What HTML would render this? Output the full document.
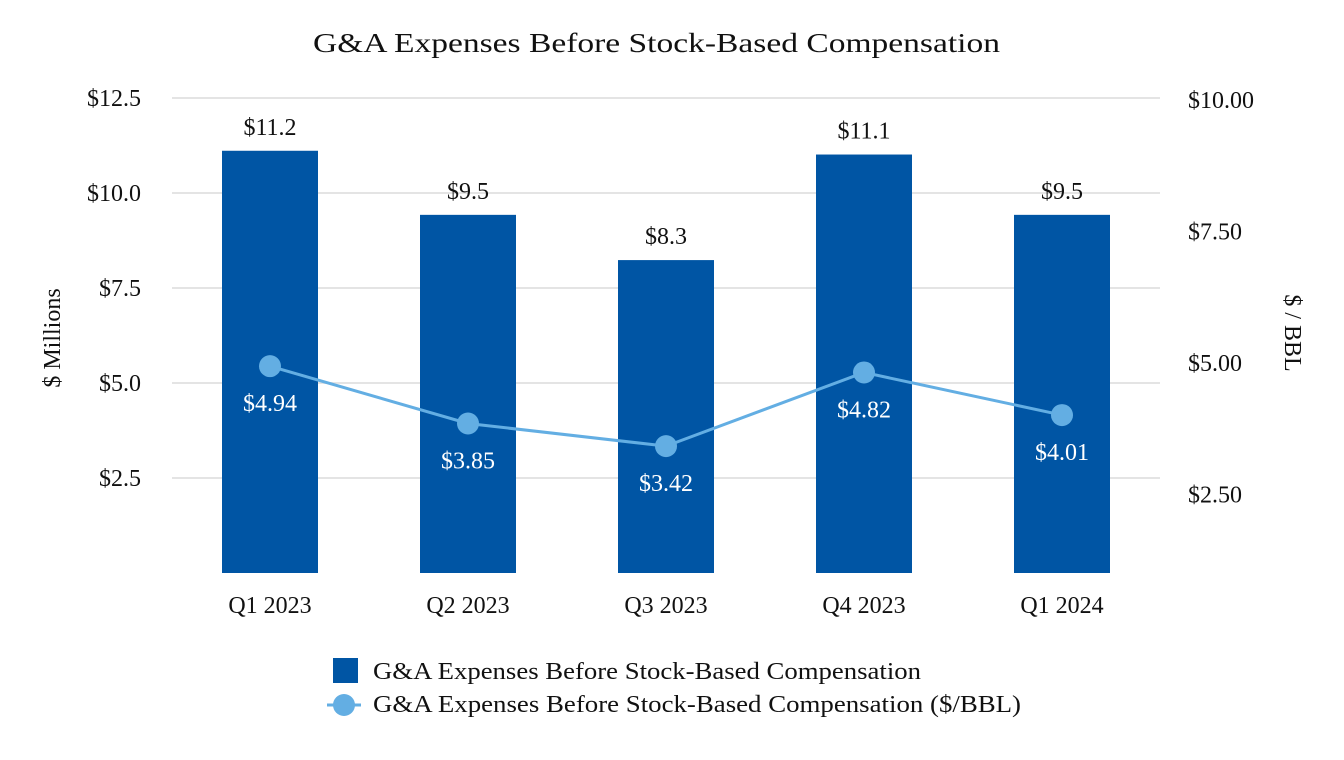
<!DOCTYPE html>
<html><head><meta charset="utf-8"><style>
html,body{margin:0;padding:0;background:#fff;}
svg{display:block;font-family:"Liberation Serif",serif;}
</style></head><body>
<svg width="1344" height="760">
<text x="313" y="52" font-size="27" textLength="687" lengthAdjust="spacingAndGlyphs" fill="#111">G&amp;A Expenses Before Stock-Based Compensation</text>
<g id="grid"></g><g id="bars"></g><g id="line"></g><g id="labels"></g>
<text transform="translate(60,338) rotate(-90)" text-anchor="middle" font-size="24" fill="#111">$ Millions</text>
<text transform="translate(1285,333) rotate(90)" text-anchor="middle" font-size="24" fill="#111">$ / BBL</text>
<g>
<rect x="333" y="658" width="25" height="25" fill="#0055a4"/>
<text x="373" y="679" font-size="24" textLength="548" lengthAdjust="spacingAndGlyphs" fill="#111">G&amp;A Expenses Before Stock-Based Compensation</text>
<line x1="327" y1="705" x2="361" y2="705" stroke="#63aee3" stroke-width="3"/>
<circle cx="344" cy="705" r="11" fill="#63aee3"/>
<text x="373" y="712" font-size="24" textLength="648" lengthAdjust="spacingAndGlyphs" fill="#111">G&amp;A Expenses Before Stock-Based Compensation ($/BBL)</text>
</g>
</svg>
<script>
const categories=["Q1 2023","Q2 2023","Q3 2023","Q4 2023","Q1 2024"];
const barValues=[11.2,9.5,8.3,11.1,9.5];
const lineValues=[4.94,3.85,3.42,4.82,4.01];
const leftTicks=[2.5,5.0,7.5,10.0,12.5];
const rightTicks=[2.5,5.0,7.5,10.0];
const NS="http://www.w3.org/2000/svg";
const yL=v=>573-v*37.7;
const yR=v=>626-v*52.6;
const xC=i=>270+i*198;
function mk(t,a,p,txt){const e=document.createElementNS(NS,t);for(const k in a)e.setAttribute(k,a[k]);if(txt!=null)e.textContent=txt;document.getElementById(p).appendChild(e);return e;}
leftTicks.forEach(v=>{
 const l=mk('line',{x1:172,x2:1160,y1:573-v*38,y2:573-v*38,stroke:'#e4e4e4','stroke-width':2},'grid');
 
 
 const t=mk('text',{x:141,y:573-v*38+8,'text-anchor':'end','font-size':24,fill:'#111'},'labels','$'+v.toFixed(1));
 
 
});
rightTicks.forEach(v=>{
 const t=mk('text',{x:1188,y:yR(v)+8,'font-size':24,fill:'#111'},'labels','$'+v.toFixed(2));
 
 
});
categories.forEach((c,i)=>{
 const r=mk('rect',{x:xC(i)-48,y:yL(barValues[i]),width:96,height:573-yL(barValues[i]),fill:'#0055a4'},'bars');
 
 
 const bl=mk('text',{x:xC(i),y:yL(barValues[i])-16,'text-anchor':'middle','font-size':24,fill:'#111'},'labels','$'+barValues[i].toFixed(1));
 
 
 const xl=mk('text',{x:xC(i),y:613,'text-anchor':'middle','font-size':24,fill:'#111'},'labels',c);
 
 
});
const pts=lineValues.map((v,i)=>xC(i)+','+yR(v)).join(' ');
const pl=mk('polyline',{points:pts,fill:'none',stroke:'#63aee3','stroke-width':3},'line');


lineValues.forEach((v,i)=>{
 const c=mk('circle',{cx:xC(i),cy:yR(v),r:11,fill:'#63aee3'},'line');
 
 
 const t=mk('text',{x:xC(i),y:yR(v)+45,'text-anchor':'middle','font-size':24,fill:'#fff'},'labels','$'+v.toFixed(2));
 
 
});
</script>
</body></html>
